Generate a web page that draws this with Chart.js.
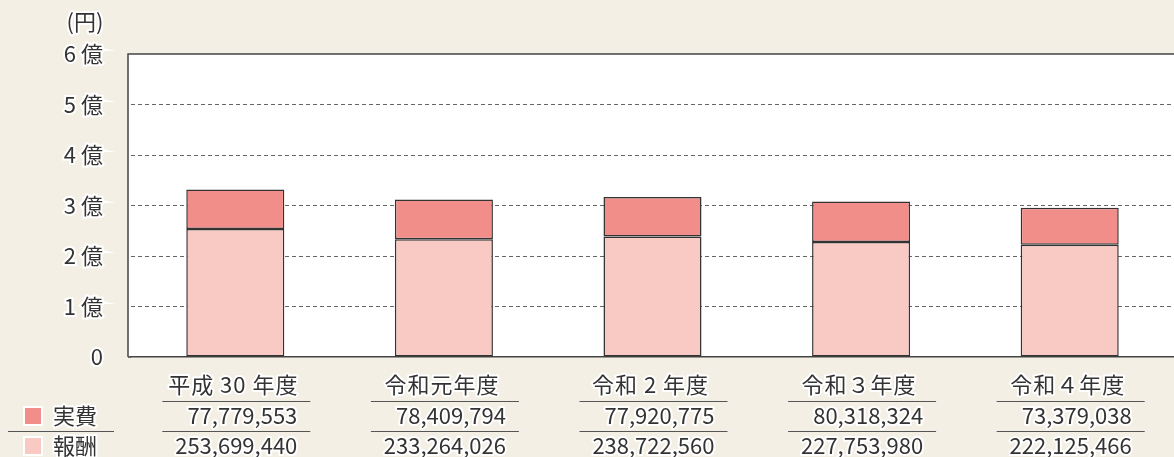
<!DOCTYPE html>
<html>
<head>
<meta charset="utf-8">
<script src="https://cdn.jsdelivr.net/npm/chart.js@4"></script>
<style>
  html, body { margin: 0; padding: 0; background: #f4efe5; }
  #wrap { width: 1174px; height: 457px; position: relative; }
</style>
</head>
<body>
<div id="wrap"><canvas id="costChart"></canvas></div>
<script>
// ---- data ----
const years = ["平成 30 年度", "令和元年度", "令和 2 年度", "令和３年度", "令和４年度"];
const jippi = [77779553, 78409794, 77920775, 80318324, 73379038];      // 実費
const houshu = [253699440, 233264026, 238722560, 227753980, 222125466]; // 報酬
const yTicks = ["0", "1 億", "2 億", "3 億", "4 億", "5 億", "6 億"];

const FONT = "'Noto Sans CJK JP', 'Noto Sans', sans-serif";
const TEXT = "#333";
const C_JIPPI = "#f28e8a";
const C_HOUSHU = "#f9c9c4";
const FRAME_X = 128;

function haloText(ctx, txt, x, y, align) {
    ctx.textAlign = align;
    ctx.textBaseline = "middle";
    ctx.lineJoin = "round";
    ctx.strokeStyle = "#fff";
    ctx.lineWidth = 4;
    ctx.strokeText(txt, x, y);
    ctx.fillStyle = TEXT;
    ctx.fillText(txt, x, y);
}

function hline(ctx, x1, x2, y) {
    ctx.strokeStyle = "#555";
    ctx.lineWidth = 1;
    ctx.beginPath();
    ctx.moveTo(x1, y); ctx.lineTo(x2, y);
    ctx.stroke();
}

// white plot area + frame
const plotBg = {
    id: "plotBg",
    beforeDraw(chart) {
        const { ctx, chartArea: a } = chart;
        ctx.save();
        ctx.fillStyle = "#f4efe5";
        ctx.fillRect(0, 0, chart.width, chart.height);
        ctx.fillStyle = "#fff";
        ctx.fillRect(FRAME_X, a.top, a.right - FRAME_X, a.bottom - a.top);
        ctx.restore();
    },
    afterDraw(chart) {
        const { ctx, chartArea: a } = chart;
        ctx.save();
        ctx.strokeStyle = "#444";
        ctx.lineWidth = 1.5;
        ctx.beginPath();
        ctx.moveTo(FRAME_X, a.bottom);
        ctx.lineTo(FRAME_X, a.top);
        ctx.lineTo(a.right, a.top);
        ctx.moveTo(FRAME_X, a.bottom);
        ctx.lineTo(a.left, a.bottom);
        ctx.stroke();
        ctx.font = "22px " + FONT;
        haloText(ctx, "(円)", 85, 22, "center");
        ctx.restore();
    }
};

// data table under the chart
const table = {
    id: "table",
    afterDraw(chart) {
        const { ctx } = chart;
        const x = chart.scales.x;
        ctx.save();
        years.forEach((lab, i) => {
            const cx = x.getPixelForValue(i);
            hline(ctx, cx - 73, cx + 75, 401.5);
            hline(ctx, cx - 73, cx + 75, 431.5);
            ctx.font = "22px " + FONT;
            ctx.letterSpacing = "1px";
            haloText(ctx, lab, cx - 2, 385, "center");
            ctx.letterSpacing = "0px";
            haloText(ctx, jippi[i].toLocaleString("en-US"), cx + 62, 416, "right");
            haloText(ctx, houshu[i].toLocaleString("en-US"), cx + 62, 446, "right");
        });
        // legend column
        hline(ctx, 8, 114, 431.5);
        ctx.font = "22px " + FONT;
        [[C_JIPPI, "実費", 416], [C_HOUSHU, "報酬", 446]].forEach(([col, lab, y]) => {
            ctx.fillStyle = "#fff";
            ctx.fillRect(23, y - 10, 20, 20);
            ctx.fillStyle = col;
            ctx.fillRect(25, y - 8, 16, 16);
            haloText(ctx, lab, 53, y, "left");
        });
        ctx.restore();
    }
};

new Chart(document.getElementById("costChart"), {
    type: "bar",
    data: {
        labels: years,
        datasets: [
            {
                label: "報酬",
                data: houshu,
                backgroundColor: C_HOUSHU,
                borderColor: "#333",
                borderWidth: 1.5,
                borderSkipped: false,
                barPercentage: 0.47,
                categoryPercentage: 1
            },
            {
                label: "実費",
                data: jippi,
                backgroundColor: C_JIPPI,
                borderColor: "#333",
                borderWidth: 1.5,
                borderSkipped: false,
                barPercentage: 0.47,
                categoryPercentage: 1
            }
        ]
    },
    options: {
        responsive: true,
        maintainAspectRatio: false,
        animation: false,
        layout: { padding: { top: 54, bottom: 100, left: 0, right: -3 } },
        plugins: {
            legend: { display: false },
            tooltip: { enabled: false }
        },
        scales: {
            x: {
                stacked: true,
                ticks: { display: false },
                grid: { display: false, drawTicks: false },
                border: { display: true, color: "#444", width: 1.5 },
                afterFit: s => { s.height = 0; }
            },
            y: {
                stacked: true,
                min: 0,
                max: 600000000,
                afterFit: s => { s.width = 131; },
                ticks: {
                    stepSize: 100000000,
                    padding: 28,
                    color: TEXT,
                    font: { family: FONT, size: 22 },
                    textStrokeColor: "#fff",
                    textStrokeWidth: 4,
                    callback: (v, i) => yTicks[i]
                },
                grid: {
                    drawTicks: false,
                    color: c => (c.tick && (c.tick.value === 0 || c.tick.value === 600000000)) ? "rgba(0,0,0,0)" : "#666"
                },
                border: { display: false, dash: [4, 3] }
            }
        }
    },
    plugins: [plotBg, table]
});
</script>
</body>
</html>
